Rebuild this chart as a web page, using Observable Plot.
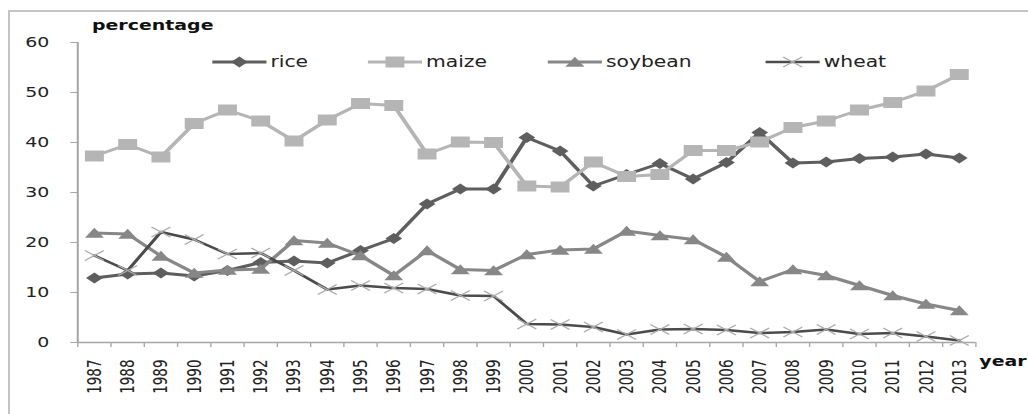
<!DOCTYPE html>
<html><head><meta charset="utf-8">
<script src="https://cdn.jsdelivr.net/npm/d3@7"></script>
<script src="https://cdn.jsdelivr.net/npm/@observablehq/plot@0.6"></script>
<style>
html,body{margin:0;padding:0;background:#fff;overflow:hidden;width:1028px;height:414px}
#frame{position:absolute;left:8px;top:10px;width:1100px;height:500px;border-top:2px solid #c4c4c4;border-left:2px solid #c4c4c4}
#wrap{position:absolute;left:0;top:0;width:760px;height:414px;transform:scaleX(1.3526);transform-origin:0 0}
#wrap svg{position:absolute;left:0;top:0}
.lbl{position:absolute;font-family:"DejaVu Sans",sans-serif;font-weight:bold;font-size:14px;color:#111;white-space:nowrap}
</style></head><body>
<div id="frame"></div>
<div id="wrap"></div>
<script>
const years = [1987,1988,1989,1990,1991,1992,1993,1994,1995,1996,1997,1998,1999,2000,2001,2002,2003,2004,2005,2006,2007,2008,2009,2010,2011,2012,2013];
const seriesNames = ["rice","maize","soybean","wheat"];
const rice    = [12.9,13.7,13.9,13.3,14.4,16.0,16.3,15.9,18.4,20.8,27.7,30.7,30.7,41.0,38.3,31.3,33.6,35.8,32.7,36.0,42.0,35.9,36.1,36.8,37.1,37.7,36.9];
const maize   = [37.3,39.6,37.1,43.8,46.5,44.3,40.3,44.5,47.8,47.4,37.7,40.1,40.0,31.3,31.1,36.1,33.2,33.6,38.4,38.4,40.1,43.0,44.3,46.5,48.0,50.3,53.6];
const soybean = [21.9,21.7,17.3,13.9,14.5,14.7,20.4,19.9,17.4,13.4,18.4,14.6,14.4,17.6,18.5,18.7,22.3,21.4,20.6,17.1,12.2,14.6,13.4,11.4,9.4,7.7,6.4];
const wheat   = [17.4,14.4,22.1,20.6,17.7,17.9,14.4,10.6,11.4,10.9,10.7,9.4,9.3,3.7,3.6,3.1,1.6,2.6,2.7,2.5,1.9,2.1,2.6,1.7,1.9,1.2,0.4];
const yTicks = [0,10,20,30,40,50,60];
const yLabel = "percentage";
const xLabel = "year";

// custom marker shapes
const diamondSym = {draw(c){const w=6.2,h=5.4;c.moveTo(0,-h);c.lineTo(w,0);c.lineTo(0,h);c.lineTo(-w,0);c.closePath();}};
const squareSym = {draw(c){c.rect(-7,-5.5,14,11);}};
const triangleSym = {draw(c){c.moveTo(0,-5.3);c.lineTo(7,4.7);c.lineTo(-7,4.7);c.closePath();}};
const crossSym = {draw(c){c.moveTo(-7,-5);c.lineTo(7,5);c.moveTo(7,-5);c.lineTo(-7,5);}};

const styles = {
  rice:    {line:"#5e5e5e", lw:3,   mark:"#5e5e5e", sym:diamondSym, filled:true},
  maize:   {line:"#b5b5b5", lw:3,   mark:"#b5b5b5", sym:squareSym, filled:true},
  soybean: {line:"#878787", lw:3,   mark:"#878787", sym:triangleSym, filled:true},
  wheat:   {line:"#4b4b4b", lw:2.5, mark:"#acacac", sym:crossSym, filled:false}
};
const values = {rice, maize, soybean, wheat};
const table = seriesNames.flatMap(s => years.map((y,i) => ({series:s, year:y, value:values[s][i]})));
const boundaries = years.map(y => y - 0.5).concat([years[years.length-1] + 0.5]);

const seriesMarks = seriesNames.flatMap(s => {
  const st = styles[s];
  const d = table.filter(r => r.series === s);
  return [
    Plot.line(d, {x:"year", y:"value", stroke:st.line, strokeWidth:st.lw, strokeLinejoin:"round"}),
    Plot.dot(d, st.filled
      ? {x:"year", y:"value", symbol:st.sym, fill:st.mark, stroke:"none", r:5}
      : {x:"year", y:"value", symbol:st.sym, fill:"none", stroke:st.mark, strokeWidth:1.1, r:5})
  ];
});

const chart = Plot.plot({
  width:760, height:414,
  marginLeft:57, marginRight:39, marginTop:42, marginBottom:72,
  style:{fontFamily:"DejaVu Sans, sans-serif", background:"transparent", overflow:"visible"},
  x:{domain:[boundaries[0], boundaries[boundaries.length-1]]},
  y:{domain:[0,60]},
  marks:[
    Plot.axisY({ticks:yTicks, tickSize:5, tickPadding:16, fontSize:14, stroke:"#a6a6a6", fill:"#222", tickFormat:d=>String(d), label:null}),
    Plot.axisX({ticks:boundaries, tickSize:5, tickFormat:()=>"", stroke:"#a6a6a6", label:null}),
    Plot.axisX({ticks:years, tickSize:0, tickPadding:17, tickRotate:-90, fontSize:15, fontFamily:"Liberation Sans Narrow, DejaVu Sans Condensed, sans-serif", fill:"#222", tickFormat:d=>String(d), label:null}),
    Plot.ruleX([boundaries[0]], {stroke:"#a6a6a6", strokeWidth:1.5}),
    Plot.ruleY([0], {stroke:"#a6a6a6", strokeWidth:1.5}),
    ...seriesMarks
  ]
});
const wrap = document.getElementById("wrap");
wrap.appendChild(chart);

// axis titles
const t1 = document.createElement("div"); t1.className="lbl"; t1.textContent=yLabel;
t1.style.left="68px"; t1.style.top="17px"; wrap.appendChild(t1);
const t2 = document.createElement("div"); t2.className="lbl"; t2.textContent=xLabel;
t2.style.left="724px"; t2.style.top="353px"; wrap.appendChild(t2);

// legend
const legendX = [157, 272, 405, 566];
const legY = 62, legLen = 40;
const svg = d3.select(wrap).append("svg").attr("width",760).attr("height",414).style("pointer-events","none");
seriesNames.forEach((s,i) => {
  const st = styles[s];
  const x0 = legendX[i];
  svg.append("line").attr("x1",x0).attr("x2",x0+legLen).attr("y1",legY).attr("y2",legY)
    .attr("stroke",st.line).attr("stroke-width",st.lw);
  const p = d3.path(); st.sym.draw(p);
  svg.append("path").attr("d",p.toString()).attr("transform",`translate(${x0+legLen/2},${legY})`)
    .attr("fill",st.filled?st.mark:"none").attr("stroke",st.filled?"none":st.mark).attr("stroke-width",1.1);
  svg.append("text").attr("x",x0+legLen+3).attr("y",legY+5).text(s)
    .attr("font-family","DejaVu Sans, sans-serif").attr("font-size",15).attr("fill","#222");
});
</script>
</body></html>
